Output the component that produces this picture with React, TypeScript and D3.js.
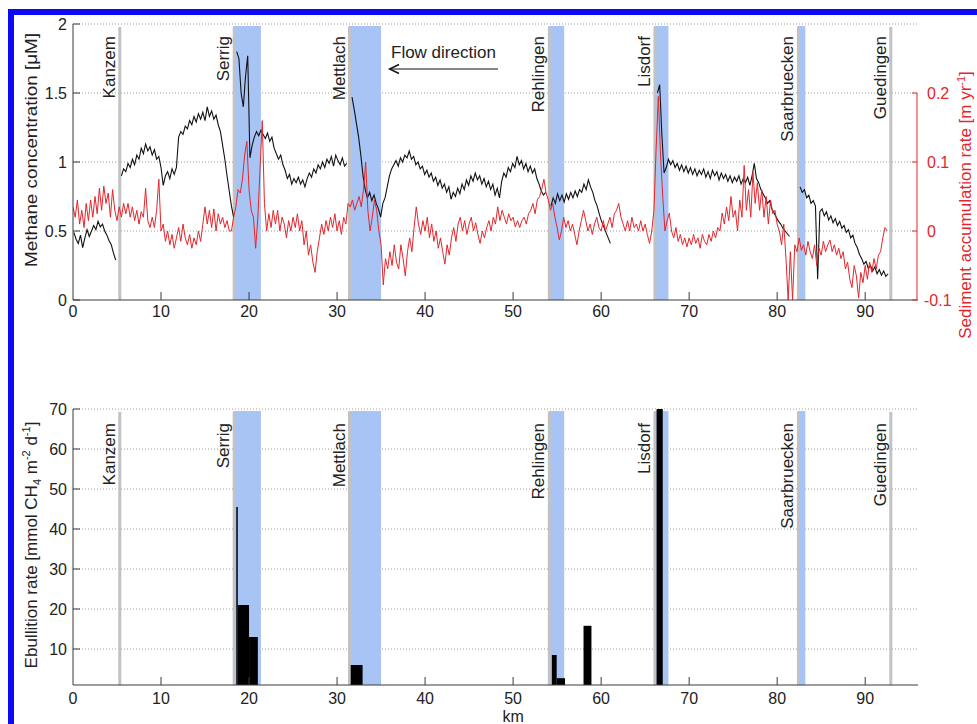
import React from "react";
import * as d3 from "d3";

// ---------- data ----------
const xTicks = [0, 10, 20, 30, 40, 50, 60, 70, 80, 90];
const methaneTicks = [0, 0.5, 1, 1.5, 2];
const sedimentTicks = [-0.1, 0, 0.1, 0.2];
const ebullitionTicks = [10, 20, 30, 40, 50, 60, 70];

const sites = ["Kanzem", "Serrig", "Mettlach", "Rehlingen", "Lisdorf", "Saarbruecken", "Guedingen"];
const siteKm = [5.2, 18.2, 31.3, 54.0, 66.0, 82.3, 92.8];
const bandEndKm = [null, 21.35, 35.0, 55.8, 67.65, 83.2, null];

const sampleStepKm = 0.25;
const methaneSegStart = [0.1, 5.5, 18.6, 31.7, 54.3, 66.4, 82.6];
const methaneSeg1 = [0.49, 0.44, 0.41, 0.47, 0.38, 0.45, 0.51, 0.46, 0.5, 0.54, 0.51, 0.57, 0.53, 0.55, 0.5, 0.47, 0.43, 0.4, 0.34, 0.29];
const methaneSeg2 = [0.9, 0.95, 0.93, 0.99, 0.96, 1.02, 0.98, 1.05, 1.02, 1.1, 1.06, 1.13, 1.08, 1.11, 1.05, 1.09, 1.02, 1.04, 0.96, 0.83,
  0.9, 0.93, 0.88, 0.95, 0.91, 0.96, 1.18, 1.22, 1.2, 1.26, 1.24, 1.3, 1.27, 1.33, 1.29, 1.35, 1.31, 1.36, 1.3, 1.4,
  1.33, 1.37, 1.31, 1.34, 1.27, 1.22, 1.12, 1.02, 0.9, 0.79, 0.68, 0.6];
const methaneSeg3 = [1.8, 1.75, 1.5, 1.4, 1.62, 1.77, 1.03, 1.12, 1.18, 1.22, 1.19, 1.23, 1.2, 1.17, 1.21, 1.15, 1.18, 1.1, 1.06, 1.02,
  1.05, 0.98, 0.94, 0.88, 0.91, 0.84, 0.88, 0.85, 0.89, 0.84, 0.87, 0.82, 0.88, 0.92, 0.89, 0.95, 0.92, 0.98, 0.95, 1.0,
  0.96, 1.02, 0.99, 1.04, 0.97, 1.05, 1.01, 0.98, 1.03, 0.97, 0.99];
const methaneSeg4 = [1.47, 1.38, 1.28, 1.18, 1.05, 0.9, 0.8, 0.74, 0.78, 0.72, 0.76, 0.7, 0.66, 0.6, 0.7, 0.74, 0.82, 0.9, 0.95, 0.98,
  1.01, 0.97, 1.03, 1.0, 1.05, 1.03, 1.08, 1.02, 1.04, 0.98, 1.0, 0.95, 0.97, 0.91, 0.94, 0.89, 0.92, 0.86, 0.89, 0.83,
  0.87, 0.81, 0.84, 0.78, 0.82, 0.73, 0.78, 0.75, 0.81, 0.77, 0.84, 0.8, 0.87, 0.83, 0.9, 0.86, 0.92, 0.87, 0.9, 0.84,
  0.88, 0.82, 0.86, 0.8, 0.84, 0.76, 0.81, 0.74, 0.86, 0.92, 0.89, 0.96, 0.93, 0.99, 0.96, 1.04, 0.98, 1.01, 0.95, 0.99,
  0.93, 0.97, 0.92, 0.95, 0.88, 0.84, 0.79, 0.76, 0.78];
const methaneSeg5 = [0.68, 0.74, 0.7, 0.77, 0.72, 0.76, 0.71, 0.77, 0.73, 0.78, 0.74, 0.79, 0.75, 0.8, 0.78, 0.84, 0.8, 0.87, 0.82, 0.78,
  0.72, 0.68, 0.62, 0.57, 0.53, 0.49, 0.45, 0.41];
const methaneSeg6 = [1.5, 1.56, 1.2, 0.92, 0.96, 1.02, 0.98, 1.01, 0.96, 0.99, 0.94, 0.98, 0.93, 0.97, 0.92, 0.96, 0.91, 0.95, 0.9, 0.94,
  0.91, 0.95, 0.89, 0.93, 0.88, 0.94, 0.9, 0.93, 0.87, 0.92, 0.88, 0.91, 0.86, 0.9, 0.85, 0.89, 0.86, 0.9, 0.84, 0.88,
  0.85, 0.89, 0.83, 0.9, 0.99, 0.88, 0.85, 0.8, 0.77, 0.74, 0.7, 0.72, 0.66, 0.63, 0.6, 0.57, 0.55, 0.52, 0.5, 0.48, 0.46];
const methaneSeg7 = [0.82, 0.78, 0.8, 0.74, 0.76, 0.7, 0.72, 0.68, 0.15, 0.64, 0.66, 0.61, 0.64, 0.58, 0.61, 0.56, 0.59, 0.54, 0.57, 0.52,
  0.54, 0.49, 0.51, 0.45, 0.47, 0.41, 0.38, 0.33, 0.3, 0.26, 0.28, 0.23, 0.25, 0.21, 0.24, 0.19, 0.22, 0.18, 0.21, 0.17, 0.19];
const methaneSegments = [methaneSeg1, methaneSeg2, methaneSeg3, methaneSeg4, methaneSeg5, methaneSeg6, methaneSeg7];

// sediment accumulation rate, sampled every 0.25 km from km 0
const sedimentRate = [
  0.035, 0.02, 0.045, 0.01, 0.03, 0.005, 0.04, 0.015, 0.045, 0.02, 0.05, 0.025, 0.062, 0.03, 0.065, 0.04,
  0.055, 0.02, 0.06, 0.03, 0.015, 0.035, 0.02, 0.04, 0.025, 0.04, 0.02, 0.035, 0.015, 0.03, 0.01, 0.028,
  0.02, 0.062, 0.015, 0.005, 0.02, 0.005, 0.03, 0.075, 0.0, 0.01, -0.015, 0.0, -0.02, -0.005, -0.025, -0.01,
  0.005, -0.015, 0.01, -0.01, -0.02, -0.005, -0.025, -0.01, -0.02, 0.0, -0.015, 0.01, 0.035, 0.01, 0.03, 0.005,
  0.032, 0.0, 0.025, 0.01, 0.02, 0.005, 0.015, 0.0, 0.0, 0.02, 0.035, 0.06, 0.055, 0.075, 0.11, 0.13,
  0.06, 0.03, 0.02, -0.025, 0.02, 0.09, 0.16, 0.04, 0.0, 0.025, 0.005, 0.03, 0.01, 0.03, 0.0, 0.02,
  0.01, -0.01, 0.015, 0.0, 0.02, 0.005, 0.025, 0.0, 0.015, -0.02, 0.0, -0.035, -0.02, -0.045, -0.06, -0.03,
  -0.01, 0.01, -0.005, 0.015, 0.0, 0.02, 0.005, 0.025, 0.0, 0.015, -0.005, 0.02, 0.01, 0.04, 0.035, 0.045,
  0.03, 0.04, 0.05, 0.035, 0.06, 0.1, 0.03, 0.0, 0.02, 0.045, 0.03, 0.0, -0.02, -0.078, -0.04, -0.055,
  -0.03, -0.05, -0.02, -0.045, -0.055, -0.02, -0.04, -0.065, -0.03, -0.01, -0.03, 0.005, 0.035, 0.01, -0.005, 0.015,
  0.0, 0.02, -0.01, 0.01, -0.015, 0.0, -0.025, -0.01, -0.03, -0.048, -0.02, -0.035, -0.01, 0.005, -0.015, 0.01,
  0.02, 0.0, 0.015, -0.005, 0.01, 0.02, 0.0, 0.012, -0.005, -0.018, 0.0, -0.01, 0.005, 0.015, 0.0, 0.02,
  0.01, 0.035, 0.015, 0.03, 0.02, 0.01, 0.025, 0.015, 0.02, 0.006, 0.015, 0.005, 0.015, 0.02, 0.01, 0.025,
  0.03, 0.04, 0.025, 0.045, 0.05, 0.06, 0.075, 0.055, 0.045, 0.03, 0.04, 0.02, 0.005, -0.013, 0.0, 0.02,
  0.005, 0.015, 0.0, 0.01, -0.005, -0.02, 0.0, 0.015, 0.03, 0.015, 0.0, 0.01, -0.005, 0.01, 0.02, 0.005,
  0.0, 0.015, 0.0, 0.01, 0.02, 0.005, 0.025, 0.03, 0.04, 0.02, 0.01, 0.0, 0.015, 0.0, 0.02, 0.005,
  0.01, 0.0, 0.015, 0.0, 0.01, -0.005, -0.018, 0.0, 0.03, 0.12, 0.195, 0.11, 0.05, 0.0, 0.015, 0.026,
  0.0, -0.01, 0.005, -0.015, -0.005, -0.02, -0.01, -0.023, -0.01, -0.02, -0.005, -0.018, -0.01, -0.025, -0.005, -0.015,
  -0.02, -0.005, -0.015, 0.0, -0.01, 0.005, 0.0, 0.026, 0.01, 0.035, 0.015, 0.05, 0.02, 0.03, 0.0, 0.045,
  0.02, 0.095, 0.03, 0.06, 0.02, 0.085, 0.04, 0.07, 0.03, 0.06, 0.02, 0.05, 0.01, 0.045, 0.025, 0.03,
  0.01, 0.0, -0.02, 0.01, -0.04, -0.1, -0.03, -0.1, -0.02, -0.03, -0.01, -0.028, -0.02, -0.035, -0.015, -0.03,
  -0.04, -0.02, -0.05, -0.025, -0.035, -0.015, -0.03, -0.02, -0.013, -0.03, -0.02, -0.035, -0.025, -0.04, -0.03, -0.055,
  -0.045, -0.07, -0.082, -0.05, -0.065, -0.097, -0.06, -0.075, -0.05, -0.07, -0.045, -0.06, -0.04, -0.055, -0.035, -0.03,
  -0.01, 0.005, 0.0,
];

const ebullitionFromKm = [18.55, 18.72, 20.0, 31.55, 54.4, 54.95, 58.0, 66.3];
const ebullitionToKm = [18.72, 20.0, 21.0, 32.9, 54.95, 55.9, 58.9, 67.0];
const ebullitionRate = [45.5, 21, 13, 6, 8.5, 2.7, 15.8, 75];

// ---------- layout ----------
const W = 977;
const H = 724;
const FONT = "'Liberation Sans', Arial, Helvetica, sans-serif";
const BAND = "#a8c4f5";
const GRAYLINE = "#c2c2c2";
const RED = "#e3262c";
const AXIS = "#3a3a3a";
const TXT = "#222";

const x = d3.scaleLinear().domain([0, 96]).range([73, 918]);
const yM = d3.scaleLinear().domain([0, 2]).range([300, 24]);
const yS = d3.scaleLinear().domain([-0.1, 0.3]).range([300, 24]);
const yE = d3.scaleLinear().domain([1, 70]).range([685, 409]);

type P = [number, number];

export default function App() {
  const lineM = d3.line<P>().x((d) => x(d[0])).y((d) => yM(d[1]));
  const lineS = d3.line<P>().x((d) => x(d[0])).y((d) => yS(Math.max(-0.1, d[1])));

  const methanePaths = methaneSegments.map((seg, i) =>
    lineM(seg.map((v, j) => [methaneSegStart[i] + j * sampleStepKm, v] as P))
  );
  const sedimentPath = lineS(sedimentRate.map((v, j) => [j * sampleStepKm, v] as P));

  const x0 = x(0);
  const x1 = x(96);

  const panel = (top: number, bottom: number, gridYs: number[], labelY: number, key: string) => (
    <g key={key}>
      {gridYs.map((gy, i) => (
        <line key={"g" + i} x1={x0} x2={x1} y1={gy} y2={gy} stroke="#9a9a9a" strokeWidth={1} strokeDasharray="1 2" />
      ))}
      {sites.map((s, i) => {
        const be = bandEndKm[i];
        return be != null ? (
          <rect key={"b" + i} x={x(siteKm[i])} y={top + 2} width={x(be) - x(siteKm[i])} height={bottom - top - 2} fill={BAND} />
        ) : null;
      })}
      {sites.map((s, i) => (
        <line key={"l" + i} x1={x(siteKm[i]) + 1} x2={x(siteKm[i]) + 1} y1={top + 3} y2={bottom} stroke={GRAYLINE} strokeWidth={3} />
      ))}
      {sites.map((s, i) => (
        <text
          key={"t" + i}
          transform={`translate(${x(siteKm[i]) - 4},${labelY}) rotate(-90)`}
          textAnchor="end"
          fontSize={17}
          fill={TXT}
          fontFamily={FONT}
        >
          {s}
        </text>
      ))}
    </g>
  );

  return (
    <svg width={W} height={H} style={{ position: "absolute", left: 0, top: 0, background: "#fff" }} fontFamily={FONT}>
      <rect x={0} y={0} width={W} height={H} fill="#fff" />
      <defs>
        <clipPath id="topclip">
          <rect x={x0} y={20} width={x1 - x0} height={281} />
        </clipPath>
        <clipPath id="botclip">
          <rect x={x0} y={yE(70)} width={x1 - x0} height={yE(1) - yE(70)} />
        </clipPath>
      </defs>

      {/* ---------- top panel ---------- */}
      {panel(yM(2), yM(0), methaneTicks.filter((t) => t > 0).map((t) => yM(t)), 36, "top")}
      <g clipPath="url(#topclip)">
        {methanePaths.map((d, i) => (
          <path key={i} d={d || ""} fill="none" stroke="#111" strokeWidth={1.1} />
        ))}
        <path d={sedimentPath || ""} fill="none" stroke={RED} strokeWidth={1} />
      </g>
      {/* left axis */}
      <line x1={x0} x2={x0} y1={yM(2)} y2={yM(0)} stroke={AXIS} />
      <line x1={x0} x2={x1} y1={yM(0)} y2={yM(0)} stroke={AXIS} />
      {methaneTicks.map((t) => (
        <g key={t}>
          <line x1={x0} x2={x0 + 7} y1={yM(t)} y2={yM(t)} stroke={AXIS} />
          <text x={67} y={yM(t) + 6} textAnchor="end" fontSize={16} fill={TXT}>
            {String(t)}
          </text>
        </g>
      ))}
      {xTicks.map((t) => (
        <g key={t}>
          {t > 0 && <line x1={x(t)} x2={x(t)} y1={yM(0)} y2={yM(0) - 8} stroke={AXIS} />}
          <text x={x(t)} y={317} textAnchor="middle" fontSize={16} fill={TXT}>
            {String(t)}
          </text>
        </g>
      ))}
      {/* right axis */}
      <line x1={917} x2={917} y1={yS(0.2)} y2={yS(-0.1)} stroke={RED} />
      {sedimentTicks.map((t) => (
        <g key={t}>
          <line x1={912} x2={917} y1={yS(t)} y2={yS(t)} stroke={RED} />
          <text x={t < 0 ? 924 : 927} y={yS(t) + 6} fontSize={16} fill={RED}>
            {String(t)}
          </text>
        </g>
      ))}
      <text transform="translate(37,150) rotate(-90)" textAnchor="middle" fontSize={17} fill={TXT} textLength={234} lengthAdjust="spacingAndGlyphs">
        Methane concentration [μM]
      </text>
      <text transform="translate(971,205) rotate(-90)" textAnchor="middle" fontSize={17} fill={RED}>
        Sediment accumulation rate [m yr
        <tspan fontSize={11} dy={-6}>-1</tspan>
        <tspan dy={6}>]</tspan>
      </text>
      {/* flow direction */}
      <text x={391} y={58} fontSize={17} fill={TXT}>
        Flow direction
      </text>
      <line x1={390} x2={498} y1={69} y2={69} stroke="#111" strokeWidth={1.2} />
      <polyline points="399,64.5 389.5,69 399,73.5" fill="none" stroke="#111" strokeWidth={1.4} />

      {/* ---------- bottom panel ---------- */}
      {panel(yE(70), yE(1), ebullitionTicks.map((t) => yE(t)), 423, "bot")}
      <g clipPath="url(#botclip)">
        {ebullitionRate.map((v, i) => (
          <rect
            key={i}
            x={x(ebullitionFromKm[i])}
            y={yE(v)}
            width={x(ebullitionToKm[i]) - x(ebullitionFromKm[i])}
            height={yE(1) - yE(v)}
            fill="#000"
          />
        ))}
      </g>
      <line x1={x0} x2={x0} y1={yE(70)} y2={yE(1)} stroke={AXIS} />
      <line x1={x0} x2={x1} y1={yE(1)} y2={yE(1)} stroke={AXIS} />
      {ebullitionTicks.map((t) => (
        <g key={t}>
          <line x1={x0} x2={x0 + 7} y1={yE(t)} y2={yE(t)} stroke={AXIS} />
          <text x={67} y={yE(t) + 6} textAnchor="end" fontSize={16} fill={TXT}>
            {String(t)}
          </text>
        </g>
      ))}
      {xTicks.map((t) => (
        <g key={t}>
          {t > 0 && <line x1={x(t)} x2={x(t)} y1={yE(1)} y2={yE(1) - 8} stroke={AXIS} />}
          <text x={x(t)} y={704} textAnchor="middle" fontSize={16} fill={TXT}>
            {String(t)}
          </text>
        </g>
      ))}
      <text x={x(50)} y={722} textAnchor="middle" fontSize={16} fill={TXT}>
        km
      </text>
      <text transform="translate(37,545) rotate(-90)" textAnchor="middle" fontSize={17} fill={TXT}>
        Ebullition rate [mmol CH
        <tspan fontSize={11} dy={4}>4</tspan>
        <tspan dy={-4}> m</tspan>
        <tspan fontSize={11} dy={-7}>-2</tspan>
        <tspan dy={7}> d</tspan>
        <tspan fontSize={11} dy={-7}>-1</tspan>
        <tspan dy={7}>]</tspan>
      </text>

      {/* blue frame */}
      <rect x={11} y={12} width={W + 20} height={H + 20} fill="none" stroke="#0a0af5" strokeWidth={6} />
    </svg>
  );
}
